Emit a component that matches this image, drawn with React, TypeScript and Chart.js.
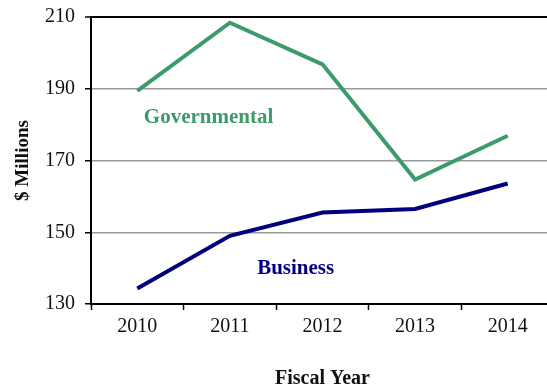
import React, { useEffect, useRef } from "react";
import { Chart, registerables } from "chart.js";

Chart.register(...registerables);

const years = ["2010", "2011", "2012", "2013", "2014"];
const governmental = [189.4, 208.4, 196.8, 164.7, 176.9];
const business = [134.3, 149.0, 155.5, 156.5, 163.6];
const yTicks = [130, 150, 170, 190, 210];

const seriesNames = ["Governmental", "Business"];
const seriesColors = ["#3c9b6a", "#00007f"];
// label anchors in data space (category index, value)
const labelAnchors = [
  [0.77, 181.9],
  [1.71, 140.0],
];

const FONT = "'Liberation Serif', 'Times New Roman', serif";

const labelPlugin = {
  id: "seriesLabels",
  afterDatasetsDraw(chart: any) {
    const { ctx, scales } = chart;
    ctx.save();
    ctx.font = `bold 21px ${FONT}`;
    ctx.textAlign = "center";
    ctx.textBaseline = "middle";
    seriesNames.forEach((name, i) => {
      ctx.fillStyle = seriesColors[i];
      ctx.fillText(
        name,
        scales.x.getPixelForValue(labelAnchors[i][0]),
        scales.y.getPixelForValue(labelAnchors[i][1])
      );
    });
    ctx.restore();
  },
};

export default function App() {
  const ref = useRef<HTMLCanvasElement>(null);
  useEffect(() => {
    const chart = new Chart(ref.current!, {
      type: "line",
      data: {
        labels: years,
        datasets: [
          {
            label: seriesNames[0],
            data: governmental,
            borderColor: seriesColors[0],
            borderWidth: 4,
            pointRadius: 0,
            tension: 0,
          },
          {
            label: seriesNames[1],
            data: business,
            borderColor: seriesColors[1],
            borderWidth: 4,
            pointRadius: 0,
            tension: 0,
          },
        ],
      },
      options: {
        responsive: false,
        animation: false,
        layout: { padding: { left: 0, right: 2, top: 17, bottom: 0 } },
        plugins: { legend: { display: false }, tooltip: { enabled: false } },
        scales: {
          x: {
            offset: true,
            afterFit: (s: any) => {
              s.height = 83;
              s.paddingLeft = 0;
              s.paddingRight = 0;
            },
            grid: {
              offset: true,
              drawOnChartArea: false,
              drawTicks: true,
              tickLength: 6,
              tickColor: "#000",
              tickWidth: 1.5,
            },
            border: { display: true, color: "#000", width: 2 },
            ticks: {
              color: "#111",
              padding: 5,
              font: { family: FONT, size: 20 },
              maxRotation: 0,
            },
            title: {
              display: true,
              text: "Fiscal Year",
              color: "#111",
              font: { family: FONT, size: 20, weight: "bold", lineHeight: 0.8 },
              padding: { top: 0, bottom: 0 },
            },
          },
          y: {
            min: yTicks[0],
            max: yTicks[yTicks.length - 1],
            afterFit: (s: any) => {
              s.width = 91;
              s.paddingTop = 0;
              s.paddingBottom = 0;
            },
            afterBuildTicks: (s: any) => {
              s.ticks = yTicks.map((v) => ({ value: v }));
            },
            grid: {
              color: (c: any) => (c.tick && c.tick.value === 210 ? "#000" : "#9a9a9a"),
              lineWidth: (c: any) => (c.tick && c.tick.value === 210 ? 2 : 1.5),
              tickColor: "#000",
              tickLength: 6,
              tickWidth: 1.5,
            },
            border: { display: true, color: "#000", width: 2 },
            ticks: {
              color: "#111",
              padding: 10,
              font: { family: FONT, size: 20 },
            },
            title: {
              display: true,
              text: "$ Millions",
              color: "#111",
              font: { family: FONT, size: 19, weight: "bold", lineHeight: 1 },
              padding: { top: 14, bottom: 14 },
            },
          },
        },
      },
      plugins: [labelPlugin],
    });
    return () => chart.destroy();
  }, []);

  return (
    <div
      style={{
        position: "fixed",
        left: 0,
        top: 0,
        width: 547,
        height: 387,
        overflow: "hidden",
        background: "#fff",
      }}
    >
      <canvas ref={ref} width={556} height={387} />
    </div>
  );
}
